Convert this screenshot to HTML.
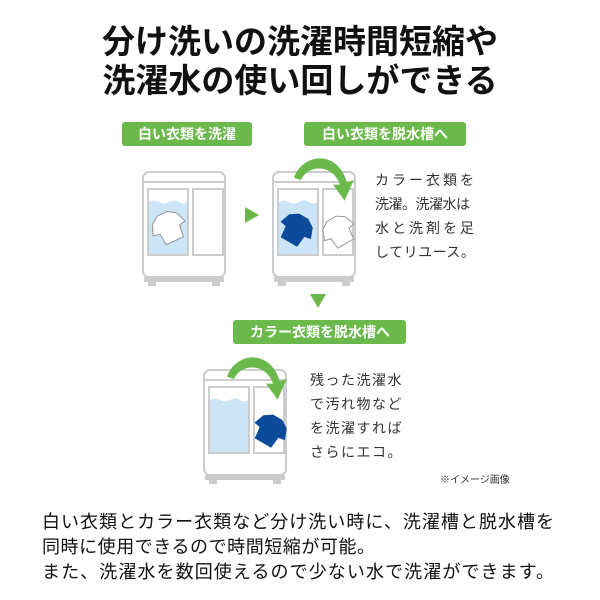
<!DOCTYPE html>
<html><head><meta charset="utf-8"><style>
body{margin:0;background:#fff;width:600px;height:600px;overflow:hidden;font-family:"Liberation Sans","Noto Sans CJK JP",sans-serif}
svg{position:absolute;left:0;top:0}
text{font-family:"Liberation Sans","Noto Sans CJK JP",sans-serif}
</style></head><body>
<svg width="600" height="600" viewBox="0 0 600 600">
<defs>
<g id="mach">
<rect x="3" y="0" width="82" height="105" rx="6" fill="#fff" stroke="#ccc" stroke-width="2"/>
<line x1="3" y1="10" x2="85" y2="10" stroke="#ccc" stroke-width="2"/>
<rect x="4" y="105" width="80" height="5" fill="#ccc"/>
<rect x="8" y="110" width="8" height="4" fill="#ccc"/><rect x="72" y="110" width="8" height="4" fill="#ccc"/>
<rect x="8" y="17" width="40" height="66" fill="#fff" stroke="#ccc" stroke-width="2"/>
<rect x="53" y="17" width="30" height="66" fill="#fff" stroke="#ccc" stroke-width="2"/>
</g>
<path id="water" d="M9 30 q5 -3 10 0 t10 0 t10 0 t8 0 V82 H9Z" fill="#cce5f6"/>
<path id="shirt" d="M-10 -6 L-4 -10 L4 -10 L10 -6 L13 2 L8 3 L7 12 L-7 12 L-8 3 L-13 2Z"/>
<path id="arr" d="M0 18 C8 -4 38 -6 46 22 L52 20 L44 38 L34 24 L40 24 C34 6 12 6 6 20Z" fill="#6ab94a"/>
</defs>
<text x="300" y="53" font-size="33" font-weight="bold" text-anchor="middle" fill="#111">分け洗いの洗濯時間短縮や</text>
<text x="300" y="92" font-size="33" font-weight="bold" text-anchor="middle" fill="#111">洗濯水の使い回しができる</text>

<rect x="122" y="122" width="130" height="24" rx="3" fill="#6ab94a"/>
<text x="187" y="139" font-size="14" font-weight="bold" fill="#fff" text-anchor="middle">白い衣類を洗濯</text>
<rect x="304" y="122" width="162" height="24" rx="3" fill="#6ab94a"/>
<text x="385" y="139" font-size="14" font-weight="bold" fill="#fff" text-anchor="middle">白い衣類を脱水槽へ</text>

<g transform="translate(140,172)"><use href="#mach"/><use href="#water"/>
<use href="#shirt" transform="translate(28,54) rotate(-25) scale(1.35)" fill="#fff" stroke="#999" stroke-width="0.8"/></g>
<path d="M245 207 L259 215 L245 223Z" fill="#6ab94a"/>
<g transform="translate(270,172)"><use href="#mach"/><use href="#water"/>
<use href="#shirt" transform="translate(27,56) rotate(30) scale(1.35)" fill="#0b4b9a"/>
<use href="#shirt" transform="translate(68,58) rotate(-30) scale(1.3)" fill="#fff" stroke="#999" stroke-width="0.8"/></g>
<use href="#arr" transform="translate(294,157) scale(1.15)"/>
<g font-size="14" fill="#333">
<text x="375" y="185" letter-spacing="3">カラー衣類を</text>
<text x="375" y="209" letter-spacing="-0.5">洗濯。洗濯水は</text>
<text x="375" y="233" letter-spacing="3">水と洗剤を足</text>
<text x="375" y="257" letter-spacing="0.5">してリユース。</text>
</g>
<path d="M310 294 L326 294 L318 308Z" fill="#6ab94a"/>
<rect x="233" y="320" width="173" height="24" rx="3" fill="#6ab94a"/>
<text x="320" y="337" font-size="14" font-weight="bold" fill="#fff" text-anchor="middle">カラー衣類を脱水槽へ</text>
<g transform="translate(201,370)"><use href="#mach"/><use href="#water"/>
<use href="#shirt" transform="translate(70,59) rotate(30) scale(1.35)" fill="#0b4b9a"/></g>
<use href="#arr" transform="translate(227,356) scale(1.15)"/>
<g font-size="14" fill="#333" letter-spacing="1.5">
<text x="310" y="385">残った洗濯水</text>
<text x="310" y="409">で汚れ物など</text>
<text x="310" y="433">を洗濯すれば</text>
<text x="310" y="457">さらにエコ。</text>
</g>
<text x="440" y="483" font-size="10" fill="#333">※イメージ画像</text>
<g font-size="18" fill="#111">
<text x="42" y="528" textLength="512">白い衣類とカラー衣類など分け洗い時に、洗濯槽と脱水槽を</text>
<text x="42" y="553" textLength="333">同時に使用できるので時間短縮が可能。</text>
<text x="42" y="578" textLength="512">また、洗濯水を数回使えるので少ない水で洗濯ができます。</text>
</g>
</svg>
</body></html>
